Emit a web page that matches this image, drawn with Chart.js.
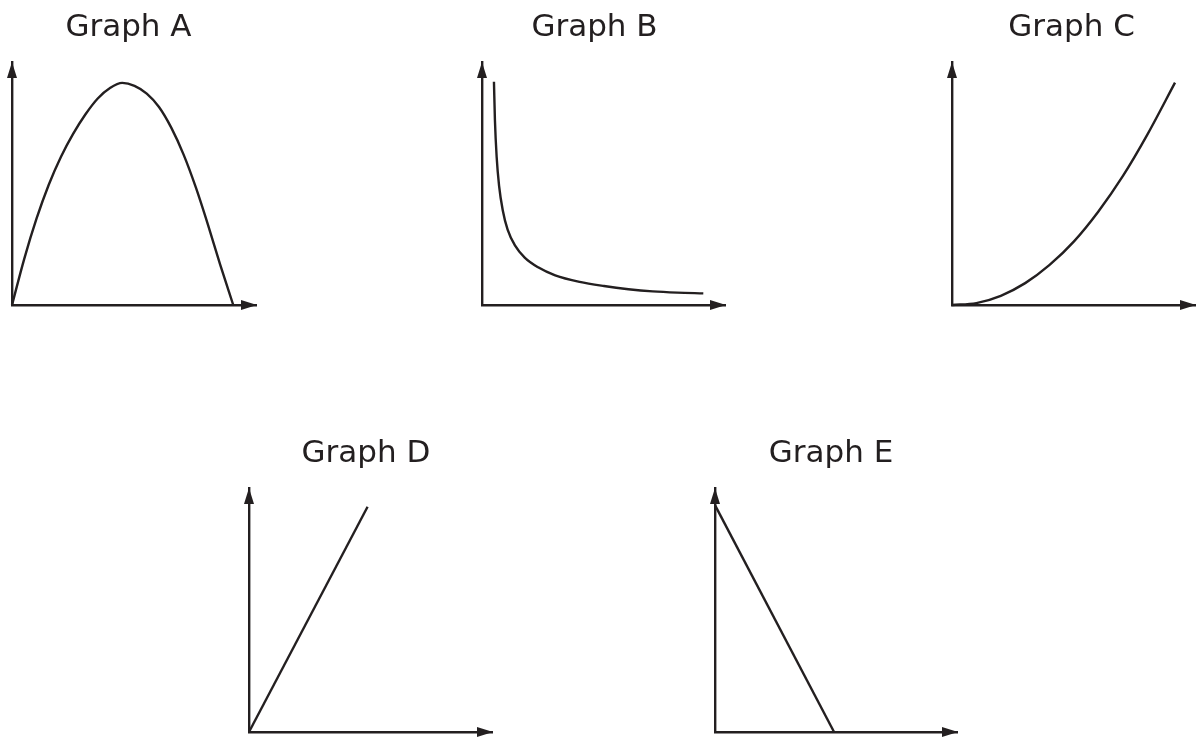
<!DOCTYPE html>
<html>
<head>
<meta charset="utf-8">
<script src="https://cdn.jsdelivr.net/npm/chart.js@4/dist/chart.umd.min.js"></script>
<style>
html,body{margin:0;padding:0;background:#ffffff;overflow:hidden;width:1197px;height:738px;}
canvas{position:absolute;display:block;}
</style>
</head>
<body>
<canvas id="cA" width="257" height="310" style="left:0px;top:0px"></canvas>
<canvas id="cB" width="263" height="310" style="left:463px;top:0px"></canvas>
<canvas id="cC" width="249" height="310" style="left:947px;top:0px"></canvas>
<canvas id="cD" width="254" height="311" style="left:239px;top:426px"></canvas>
<canvas id="cE" width="254" height="311" style="left:704px;top:426px"></canvas>
<script>
// ---- data (axis units: 0..10 along each axis, 10 = arrow tip) ----
const titles = ['Graph A', 'Graph B', 'Graph C', 'Graph D', 'Graph E'];

const xA = [0, 0.5, 1.0, 1.5, 2.0, 2.5, 3.0, 3.5, 4.0, 4.5, 5.0, 5.5, 6.0, 6.5, 7.0, 7.5, 8.0, 8.5, 9.03];
const yA = [0, 1.9, 3.55, 4.95, 6.1, 7.05, 7.85, 8.5, 8.93, 9.14, 9.02, 8.7, 8.15, 7.3, 6.2, 4.85, 3.3, 1.65, 0];

const xB = [0.49, 0.53, 0.60, 0.70, 0.85, 1.05, 1.35, 1.75, 2.3, 3.0, 4.0, 5.0, 6.0, 7.0, 8.0, 9.07];
const yB = [9.19, 7.6, 6.1, 4.9, 3.9, 3.1, 2.45, 1.95, 1.55, 1.22, 0.95, 0.78, 0.65, 0.56, 0.51, 0.48];

const xC = [0, 1, 2, 3, 4, 5, 6, 7, 8, 9.14];
const yC = [0, 0.08, 0.38, 0.90, 1.65, 2.62, 3.85, 5.3, 7.0, 9.15];

const xD = [0, 4.86];
const yD = [0, 9.23];

const xE = [0, 4.90];
const yE = [9.30, 0];

const axisMin = 0;
const axisMax = 10;

// ---- styling ----
const INK = '#231f20';
const FONT = "'DejaVu Sans', 'Noto Sans', sans-serif";

const arrowPlugin = {
  id: 'axisArrows',
  afterDraw(chart) {
    const {ctx, chartArea} = chart;
    const {left, right, top, bottom} = chartArea;
    ctx.save();
    ctx.fillStyle = INK;
    ctx.beginPath();
    ctx.moveTo(right, bottom);
    ctx.lineTo(right - 16, bottom - 5);
    ctx.lineTo(right - 16, bottom + 5);
    ctx.closePath();
    ctx.fill();
    ctx.beginPath();
    ctx.moveTo(left, top);
    ctx.lineTo(left - 5, top + 16);
    ctx.lineTo(left + 5, top + 16);
    ctx.closePath();
    ctx.fill();
    ctx.restore();
  }
};

function pts(xs, ys) {
  return xs.map((x, i) => ({x: x, y: ys[i]}));
}

function makeChart(id, title, xs, ys, leftGap) {
  const common = {
    type: 'linear',
    min: axisMin,
    max: axisMax,
    grid: {display: false, drawTicks: false},
    ticks: {display: false},
    border: {display: true, color: INK, width: 2.4}
  };
  return new Chart(document.getElementById(id), {
    type: 'line',
    data: {
      datasets: [{
        data: pts(xs, ys),
        borderColor: INK,
        borderWidth: 2.4,
        pointRadius: 0,
        fill: false,
        cubicInterpolationMode: 'monotone',
        clip: false
      }]
    },
    options: {
      responsive: false,
      animation: false,
      events: [],
      layout: {autoPadding: false, padding: {left: 0, right: 0, top: 0, bottom: 5}},
      plugins: {
        legend: {display: false},
        tooltip: {enabled: false},
        title: {
          display: true,
          text: title,
          color: INK,
          font: {family: FONT, size: 31, weight: 'normal', lineHeight: 1.2},
          padding: {top: 9.5, bottom: 15.3}
        }
      },
      scales: {
        x: Object.assign({}, common, {position: 'bottom'}),
        y: Object.assign({}, common, {position: 'left', afterFit: (s) => { s.width = leftGap; }})
      }
    },
    plugins: [arrowPlugin]
  });
}

makeChart('cA', titles[0], xA, yA, 12);
makeChart('cB', titles[1], xB, yB, 19);
makeChart('cC', titles[2], xC, yC, 5);
makeChart('cD', titles[3], xD, yD, 10);
makeChart('cE', titles[4], xE, yE, 11);
</script>
</body>
</html>
